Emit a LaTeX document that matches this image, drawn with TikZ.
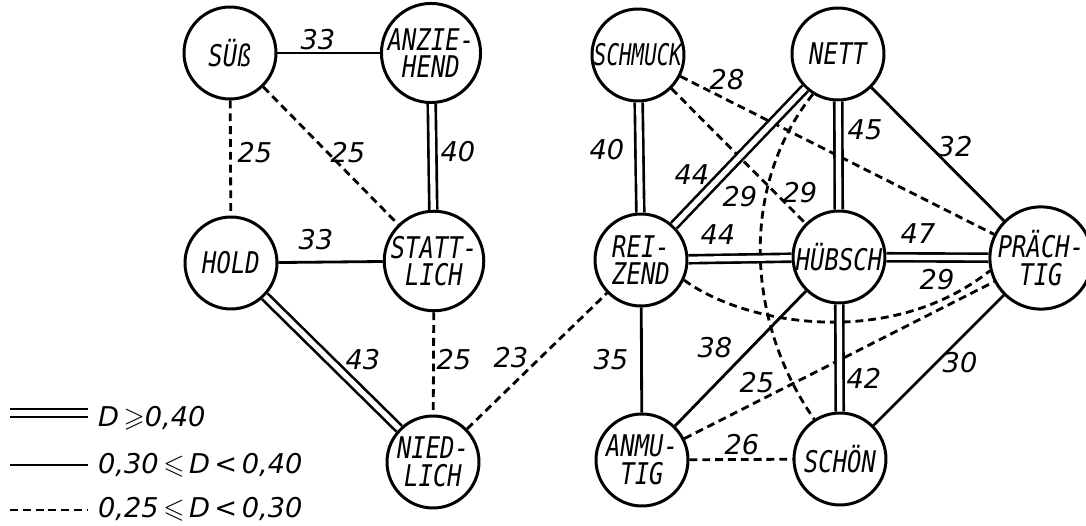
\documentclass[tikz,border=0pt]{standalone}
\usepackage{amssymb}
\usepackage{fontspec}
\newfontfamily\handcn[FakeStretch=0.8]{DejaVu Sans Mono}
\newfontfamily\handsq[FakeStretch=0.7]{DejaVu Sans Mono}
\newfontfamily\hand{DejaVu Sans}
\usetikzlibrary{positioning}

\tikzset{
  word/.style={circle, draw, line width=1.7pt, minimum size=1.84cm, inner sep=0pt,
    align=center, font=\handcn\itshape\fontsize{17}{15.6}\selectfont},
  num/.style={inner sep=1pt, font=\hand\itshape\fontsize{15.5}{16}\selectfont},
  strong/.style={double, line width=1.5pt, double distance=3pt},
  medium/.style={line width=1.6pt},
  weak/.style={line width=1.6pt, dash pattern=on 4.5pt off 2.8pt},
}

\begin{document}
\begin{tikzpicture}[x=0.02cm, y=-0.02cm]
    \useasboundingbox (0,0) rectangle (1086,526);

    % Begriffe
    \node[word] (suess)   at (230,53)  {SÜß};
    \node[word] (anzie)   at (431,53)  {ANZIE-\\HEND};
    \node[word] (hold)    at (231,263) {HOLD};
    \node[word] (statt)   at (434,261) {STATT-\\LICH};
    \node[word] (nied)    at (433,462) {NIED-\\LICH};
    \node[word, font=\handsq\itshape\fontsize{17}{15.6}\selectfont] (schmuck) at (638,55) {SCHMUCK};
    \node[word] (nett)    at (838,54)  {NETT};
    \node[word] (reiz)    at (641,260) {REI-\\ZEND};
    \node[word] (huebsch) at (839,257) {HÜBSCH};
    \node[word] (praech)  at (1041,258) {PRÄCH-\\TIG};
    \node[word] (anmut)   at (642,460) {ANMU-\\TIG};
    \node[word] (schoen)  at (840,459) {SCHÖN};

    % Verbindungen
    \draw[medium] (suess) -- (anzie);
    \draw[weak] (suess) -- (hold);
    \draw[weak] (suess) -- (statt);
    \draw[strong] (anzie) -- (statt);
    \draw[medium] (hold) -- (statt);
    \draw[strong] (hold) -- (nied);
    \draw[weak] (statt) -- (nied);
    \draw[weak] (nied) -- (reiz);
    \draw[strong] (schmuck) -- (reiz);
    \draw[weak] (schmuck) -- (praech);
    \draw[weak] (schmuck) -- (huebsch);
    \draw[strong] (nett) -- (reiz);
    \draw[strong] (nett) -- (huebsch);
    \draw[medium] (nett) -- (praech);
    \draw[weak] (nett.238) .. controls (740,185) and (745,320) .. (schoen.123);
    \draw[strong] (reiz) -- (huebsch);
    \draw[strong] (huebsch) -- (praech);
    \draw[weak] (reiz.-25) .. controls (745,325) and (890,350) .. (praech.194);
    \draw[medium] (reiz) -- (anmut);
    \draw[medium] (huebsch) -- (anmut);
    \draw[weak] (anmut) -- (praech);
    \draw[strong] (huebsch) -- (schoen);
    \draw[medium] (schoen) -- (praech);
    \draw[weak] (anmut) -- (schoen);

    % Werte
    \node[num] (v1)  at (318,40)  {33};
    \node[num] (v2)  at (255,153) {25};
    \node[num] (v3)  at (348,153) {25};
    \node[num] (v4)  at (458,152) {40};
    \node[num] (v5)  at (316,240) {33};
    \node[num] (v6)  at (363,360) {43};
    \node[num] (v7)  at (454,360) {25};
    \node[num] (v8)  at (511,358) {23};
    \node[num] (v9)  at (607,150) {40};
    \node[num] (v10) at (692,175) {44};
    \node[num] (v11) at (727,80)  {28};
    \node[num] (v12) at (740,197) {29};
    \node[num] (v13) at (800,193) {29};
    \node[num] (v14) at (865,130) {45};
    \node[num] (v15) at (955,147) {32};
    \node[num] (v16) at (718,235) {44};
    \node[num] (v17) at (918,234) {47};
    \node[num] (v18) at (937,280) {29};
    \node[num] (v19) at (611,360) {35};
    \node[num] (v20) at (715,348) {38};
    \node[num] (v21) at (757,383) {25};
    \node[num] (v22) at (864,378) {42};
    \node[num] (v23) at (960,363) {30};
    \node[num] (v24) at (742,445) {26};

    % Legende
    \coordinate (la) at (10,413);
    \coordinate (lb) at (10,465);
    \coordinate (lc) at (10,510);
    \node[num, anchor=west] (leg1) at (96,418) {D\,$\geqslant$0,40};
    \node[num, anchor=west] (leg2) at (96,465) {0,30\,$\leqslant$\,D\,<\,0,40};
    \node[num, anchor=west] (leg3) at (96,509) {0,25\,$\leqslant$\,D\,<\,0,30};
    \draw[strong] (la) -- ++(78,0);
    \draw[medium] (lb) -- ++(78,0);
    \draw[weak] (lc) -- ++(78,0);
\end{tikzpicture}
\end{document}
